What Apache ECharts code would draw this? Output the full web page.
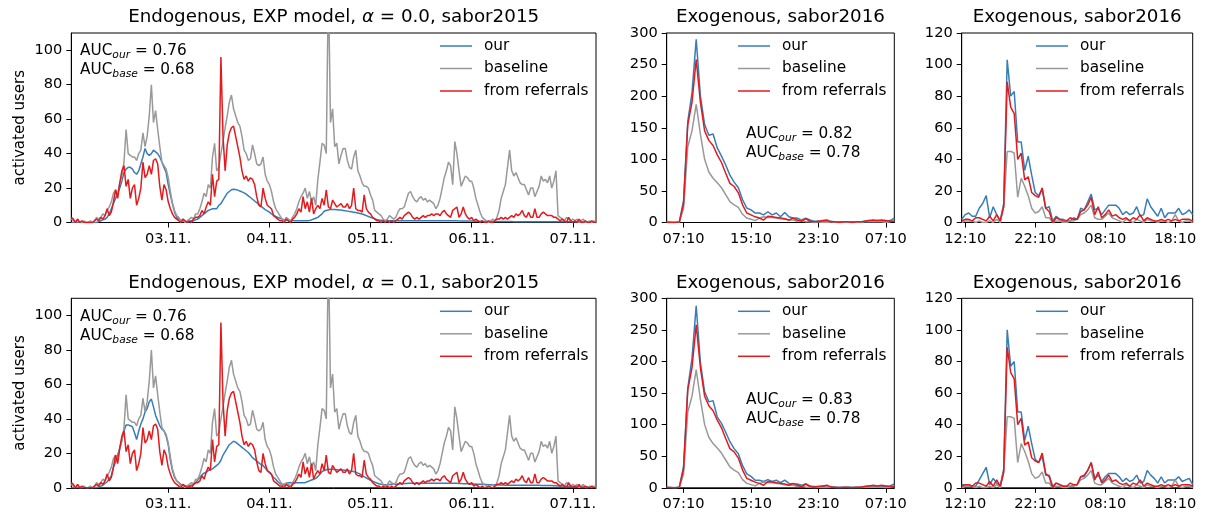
<!DOCTYPE html>
<html><head><meta charset="utf-8">
<script src="https://cdn.jsdelivr.net/npm/echarts@6/dist/echarts.min.js"></script>
<style>html,body{margin:0;padding:0;background:#fff}#c{width:1205px;height:515px}</style>
</head><body><div id="c"></div>
<script>
// ---------- tick labels ----------
const leftTickIdx = [46, 94, 142, 190, 238];
const leftTickLabels = ['03.11.', '04.11.', '05.11.', '06.11.', '07.11.'];
const midTickIdx = [4, 20, 36, 52];
const midTickLabels = ['07:10', '15:10', '23:10', '07:10'];
const rightTickIdx = [1, 21, 41, 61];
const rightTickLabels = ['12:10', '22:10', '08:10', '18:10'];
const leftYTicks = [0, 20, 40, 60, 80, 100];
const seriesNames = ['our', 'baseline', 'from referrals'];

// ---------- Endogenous, sabor2015 (30-min steps) ----------
const endoBaseline = [
2,1,0,2,0,0,1,0,0,1, 0,1,3,2,3,5,4,7,9,12, 17,19,16,23,27,35,54,40,39,38, 38,36,40,42,52,44,50,62,80,58,
65,54,44,35,33,31,26,18,11,7, 4,3,1,2,0,1,2,3,2,5, 5,8,12,17,15,22,20,38,46,30, 32,40,47,55,62,70,74,66,62,58,
56,50,42,40,36,37,45,40,34,33, 34,38,28,24,22,18,12,8,6,4, 2,1,3,2,1,3,5,8,12,15, 17,20,14,18,12,15,10,25,35,46,
45,40,140,58,66,44,46,34,39,43, 43,36,32,31,38,42,30,27,23,21, 21,20,16,13,7,6,5,4,2,1, 2,4,3,2,3,6,8,8,9,13,
17,18,15,13,12,14,15,13,14,12, 13,12,11,8,10,14,20,26,30,35, 33,22,47,40,30,21,24,27,26,24, 24,20,14,10,6,3,2,1,0,1,
2,1,3,7,14,18,22,32,42,30, 27,29,26,23,22,22,19,16,20,20, 15,18,21,27,24,25,23,27,20,24, 30,4,3,2,1,3,2,1,2,1,
2,0,1,2,0,0,1,0,1,0];
const endoReferrals = [
3,2,0,2,0,1,0,0,0,0, 0,1,2,1,3,2,4,8,4,6, 12,19,14,23,30,33,21,25,14,20, 22,10,14,20,35,26,28,33,28,36,
37,34,21,13,22,19,12,8,5,3, 2,1,0,2,1,0,1,0,2,3, 3,4,7,5,9,12,10,28,15,24, 25,96,50,30,45,52,55,56,50,44,
38,30,25,27,24,26,25,22,15,10, 9,20,14,10,9,8,4,3,2,1, 1,0,2,1,0,2,3,5,8,6, 15,8,12,6,14,5,8,10,8,14,
10,19,9,8,13,11,9,10,11,9, 9,11,8,10,20,8,7,7,6,16, 8,6,5,3,2,1,1,0,1,0, 1,0,1,0,1,2,3,2,4,5,
6,5,3,2,3,2,3,4,3,4, 4,5,4,5,5,4,6,7,5,4, 3,7,8,9,3,5,9,5,3,2, 3,1,2,1,0,1,0,0,1,0,
0,1,2,2,3,2,3,2,3,4, 3,5,4,5,7,4,3,6,3,3, 8,3,3,5,6,5,4,4,4,3, 3,2,1,2,1,0,3,1,0,1,
0,2,0,0,1,0,0,1,0,0];
const endoOurA0 = [
0,0,0,0,0,0,0,0,0,0, 0,0,0,0.5,1,1.5,2,3,5,8, 11,14,17,20,24,29,31,32,32,31, 29,28,30,34,38,43,40,39,40,42,
41,40,38,35,32,29,22,16,11,6, 3,2,1,1,0.5,0.5,0.5,1,1,1.5, 2,3,4,5,6,7,7.5,8,8,8, 10,11,13,15,17,18,19,19.3,19.2,18.8,
18.3,17.8,17.2,16.5,15.5,14.5,13.5,12.5,11.5,10.5, 9.5,8.5,7.5,6.8,6,5,4.2,3.5,3,2.5, 2,1.5,1.5,1,1,1,1,1,1,1, 1,1,1,1.2,1.5,2,2.5,3,4,5,
6.5,7,7.3,7.5,7.5,7.5,7.4,7.3,7.2,7, 6.8,6.6,6.4,6.2,6,5.8,5.5,5.2,4.9,4.5, 4,3.5,3,2.6,2.2,1.8,1.5,1.3,1.1,1, 1,1,1,1,1,1,1,1,1,1,
1,1,1,1,1,1,1,1,1,1, 1,1,1,1,1,1,1,1,1,1, 1,1,1,1,0.8,0.8,0.8,0.8,0.8,0.8, 0.8,0.8,0.7,0.7,0.7,0.7,0.6,0.6,0.6,0.6,
0.6,0.6,0.6,0.6,0.6,0.6,0.6,0.6,0.6,0.6, 0.5,0.5,0.5,0.5,0.5,0.5,0.5,0.5,0.5,0.5, 0.5,0.5,0.5,0.5,0.5,0.5,0.5,0.5,0.5,0.5, 0.4,0.4,0.4,0.4,0.4,0.4,0.4,0.4,0.4,0.4,
0.3,0.3,0.3,0.3,0.3,0.3,0.3,0.3,0.3,0.3];
const endoOurA1 = [
0,0,0,0,0,0,0,0,0,0, 0,0,0,0.5,1,1.5,2.5,3.5,5,7, 12,15,19,23,28,33,36.5,36.5,36,35.5, 32,28,33,37,40,44,46,50,51.5,47,
42,39,36,34,33,30,25,16,10,6, 4,3,2,1.5,1,1,1,1.5,2,3, 4.5,6,7.5,8.5,9,10,10.5,11,12,13, 14,16,19,21,23,25,26,27,26.5,25.5,
24.5,23.5,22.5,21.5,20.5,19,17.5,16.5,15.5,14.5, 13.5,13,11.5,10,9,7.5,6,5,3.5,2.5, 2,2,2.5,3,3,3,3,3,3,3, 3,3,3.5,4,4.5,5,5.5,6.5,8,9.5,
10,10.5,10.8,10.8,10.8,10.6,10.5,10.4,10.3,10.3, 10.2,10,9.8,9.6,9.4,9,8.5,8,7.2,6.5, 5.8,5,4.3,3.8,3.3,2.8,2.4,2.1,1.9,1.8, 1.8,1.9,2,2,2.1,2.2,2.3,2.4,2.5,2.5,
2.6,2.6,2.7,2.7,2.7,2.7,2.7,2.7,2.7,2.7, 2.7,2.7,2.7,2.7,2.7,2.7,2.7,2.7,2.7,2.7, 2.7,2.7,2.6,2.6,2.5,2.5,2.4,2.4,2.3,2.3, 2.2,2.2,2.1,2.1,2,2,1.9,1.9,1.8,1.8,
1.7,1.7,1.6,1.6,1.6,1.6,1.5,1.5,1.5,1.5, 1.5,1.5,1.5,1.5,1.5,1.5,1.5,1.5,1.5,1.5, 1.5,1.5,1.5,1.4,1.4,1.4,1.3,1.3,1.3,1.2, 1.2,1.1,1,1,0.9,0.9,0.8,0.8,0.7,0.7,
0.6,0.6,0.6,0.5,0.5,0.5,0.5,0.5,0.5,0.5];

// ---------- Exogenous, sabor2016 (middle, 30-min steps from 05:10) ----------
const midOurTop = [0,0,0,1,35,160,205,290,200,155, 138,140,118,105,91,75,64,55,36,23, 20,15,15,12,17,12,15,9,16,9, 7,7,4,7,4,2,2,2,1,2, 1,1,1,1,1,1,1,2,3,2, 3,2,2,3,7];
const midOurBottom = [0,0,0,1,34,158,205,288,198,152, 136,138,112,102,88,73,62,54,35,22, 18,12,12,10,13,10,12,8,12,7, 6,6,4,6,3,2,2,2,1,2, 1,1,1,1,1,1,1,2,3,2, 2,2,2,3,6];
const midBaseline = [2,1,0,1,22,120,145,187,140,100, 80,70,63,55,44,33,28,24,13,7, 5,3,7,9,8,8,7,6,5,4, 4,2,4,1,1,0,1,0,0,1, 0,0,0,0,0,0,0,1,1,1, 1,1,0,1,3];
const midReferrals = [0,0,0,1,30,155,190,258,190,145, 130,122,107,95,78,62,57,47,28,15, 12,9,7,4,10,9,8,7,6,4, 7,4,2,6,2,1,2,3,4,1, 1,0,1,1,0,1,1,2,3,4, 3,4,3,2,2];

// ---------- Exogenous, sabor2016 (right, 30-min steps from 11:40) ----------
const rightOurTop = [2,5,6,4,4,9,12,17,3,10, 5,1,12,103,80,83,51,51,33,42, 30,19,17,21,9,10,1,4,2,2, 1,1,3,2,9,8,13,18,8,9, 5,8,11,11,11,9,5,7,5,6, 10,4,5,15,10,7,4,9,3,6, 6,6,9,5,6,8,5];
const rightOurBottom = [2,2,2,1,1,5,9,13,2,6, 3,1,12,100,77,80,48,48,30,39, 28,18,16,20,8,8,1,3,2,1, 1,1,2,2,7,7,11,16,6,8, 4,7,9,9,9,7,4,6,4,5, 8,3,4,11,8,6,3,7,3,5, 5,5,7,4,5,6,2];
const rightBaseline = [0,1,1,1,0,1,0,0,1,0, 2,0,10,45,45,44,16,28,23,17, 9,6,7,10,3,3,0,1,1,0, 0,1,1,2,5,6,8,11,3,2, 2,4,6,3,2,1,0,2,1,0, 2,1,0,2,1,1,0,1,1,0, 1,5,1,0,1,1,0];
const rightReferrals = [1,2,2,1,3,3,2,1,4,1, 5,1,10,89,73,69,40,44,27,29, 19,17,16,22,9,7,0,3,2,1, 1,3,2,2,7,8,11,16,5,10, 3,5,8,4,5,3,2,3,1,3, 2,5,1,3,2,1,1,2,1,2, 1,2,1,2,2,2,1];

// ---------- AUC annotations ----------
const aucText = [
  {our: '0.76', base: '0.68'}, {our: '0.82', base: '0.78'},
  {our: '0.76', base: '0.68'}, {our: '0.83', base: '0.78'}
];

// ---------- build ----------
const FONT = 'DejaVu Sans';
const COLORS = {our: '#377eb8', baseline: '#999999', ref: '#e41a1c'};
const rowTops = [33, 298.3];
const rowH = 189.5;
const cols = [
  {left: 71.3, width: 524.7},
  {left: 666.7, width: 227.6},
  {left: 961.7, width: 231}
];
const idx = n => Array.from({length: n}, (_, i) => i);

const panels = [
  {row:0, col:0, data:[endoOurA0, endoBaseline, endoReferrals], ticks:leftTickIdx, labels:leftTickLabels, ymax:110, yticks:leftYTicks, yname:'activated users'},
  {row:0, col:1, data:[midOurTop, midBaseline, midReferrals], ticks:midTickIdx, labels:midTickLabels, ymax:300, yint:50},
  {row:0, col:2, data:[rightOurTop, rightBaseline, rightReferrals], ticks:rightTickIdx, labels:rightTickLabels, ymax:120, yint:20},
  {row:1, col:0, data:[endoOurA1, endoBaseline, endoReferrals], ticks:leftTickIdx, labels:leftTickLabels, ymax:110, yticks:leftYTicks, yname:'activated users'},
  {row:1, col:1, data:[midOurBottom, midBaseline, midReferrals], ticks:midTickIdx, labels:midTickLabels, ymax:300, yint:50},
  {row:1, col:2, data:[rightOurBottom, rightBaseline, rightReferrals], ticks:rightTickIdx, labels:rightTickLabels, ymax:120, yint:20}
];

const grid = [], xAxis = [], yAxis = [], series = [], legend = [], title = [];
const tickFont = {fontFamily: FONT, fontSize: 14.6, color: '#000'};
const lineColors = [COLORS.our, COLORS.baseline, COLORS.ref];

panels.forEach((p, g) => {
  const c = cols[p.col];
  grid.push({left: c.left, top: rowTops[p.row], width: c.width, height: rowH, show: true, borderColor: '#000', borderWidth: 1, containLabel: false});
  const n = p.data[0].length;
  xAxis.push({
    type: 'category', gridIndex: g, data: idx(n), boundaryGap: false,
    axisLine: {show: true, onZero: false, lineStyle: {color: '#000', width: 1}},
    axisTick: {show: true, length: 5, interval: (i) => p.ticks.includes(i), lineStyle: {color: '#000'}},
    axisLabel: Object.assign({interval: (i) => p.ticks.includes(i), margin: 9,
      formatter: (v, i) => { const k = p.ticks.indexOf(i); return k >= 0 ? p.labels[k] : ''; }}, tickFont),
    splitLine: {show: false}
  });
  const ya = {
    type: 'value', gridIndex: g, min: 0, max: p.ymax,
    axisLine: {show: true, lineStyle: {color: '#000', width: 1}},
    axisTick: {show: true, length: 5, lineStyle: {color: '#000'}},
    axisLabel: Object.assign({margin: 9}, tickFont),
    splitLine: {show: false}
  };
  if (p.yticks) { ya.axisTick.customValues = p.yticks; ya.axisLabel.customValues = p.yticks; }
  else { ya.interval = p.yint; }
  if (p.yname) {
    ya.name = p.yname; ya.nameLocation = 'middle'; ya.nameGap = 44; ya.nameRotate = 90;
    ya.nameTextStyle = {fontFamily: FONT, fontSize: 15, color: '#000'};
  }
  yAxis.push(ya);
  p.data.forEach((arr, s) => {
    series.push({
      name: seriesNames[s], type: 'line', xAxisIndex: g, yAxisIndex: g, data: arr,
      showSymbol: false, symbol: 'none', clip: true, animation: false, z: 2 + s,
      lineStyle: {color: lineColors[s], width: 1.5},
      itemStyle: {color: lineColors[s]}
    });
  });
  const legLeft = [440, 738, 1036][p.col];
  legend.push({
    orient: 'vertical', left: legLeft, top: rowTops[p.row] + 1.75, padding: 0, itemGap: 0,
    itemWidth: 32, itemHeight: 1.5, icon: 'rect', selectedMode: false,
    data: seriesNames,
    textStyle: {fontFamily: FONT, fontSize: 15.3, color: '#000', lineHeight: 22.5, padding: [0, 0, 0, 7]}
  });
});

const titleRich = {
  n: {fontFamily: FONT, fontSize: 18.3, color: '#000'},
  i: {fontFamily: FONT, fontSize: 18.3, color: '#000', fontStyle: 'italic'}
};
const titleTexts = [
  '{n|Endogenous, EXP model, }{i|α}{n| = 0.0, sabor2015}',
  '{n|Exogenous, sabor2016}',
  '{n|Exogenous, sabor2016}',
  '{n|Endogenous, EXP model, }{i|α}{n| = 0.1, sabor2015}',
  '{n|Exogenous, sabor2016}',
  '{n|Exogenous, sabor2016}'
];
panels.forEach((p, g) => {
  const c = cols[p.col];
  title.push({
    text: titleTexts[g], left: c.left + c.width / 2, top: rowTops[p.row] - 24.5, textAlign: 'center', padding: 0,
    textStyle: {rich: titleRich, fontFamily: FONT, fontSize: 18.3, fontWeight: 'normal', color: '#000'}
  });
});

const aucRich = {
  a: {fontFamily: FONT, fontSize: 15.3, fill: '#000', lineHeight: 19},
  s: {fontFamily: FONT, fontSize: 10.7, fill: '#000', fontStyle: 'italic', lineHeight: 19, verticalAlign: 'bottom'}
};
const aucPos = [[80, 44], [746, 127], [80, 309.3], [746, 392.3]];
const graphic = aucText.map((t, k) => ({
  type: 'text', left: aucPos[k][0], top: aucPos[k][1], z: 10,
  style: {text: '{a|AUC}{s|our}{a| = ' + t.our + '}\n{a|AUC}{s|base}{a| = ' + t.base + '}', rich: aucRich, fill: '#000'}
}));

const chart = echarts.init(document.getElementById('c'), null, {renderer: 'canvas'});
chart.setOption({
  animation: false, backgroundColor: '#fff',
  grid, xAxis, yAxis, series, legend, title, graphic
});
</script>
</body></html>
